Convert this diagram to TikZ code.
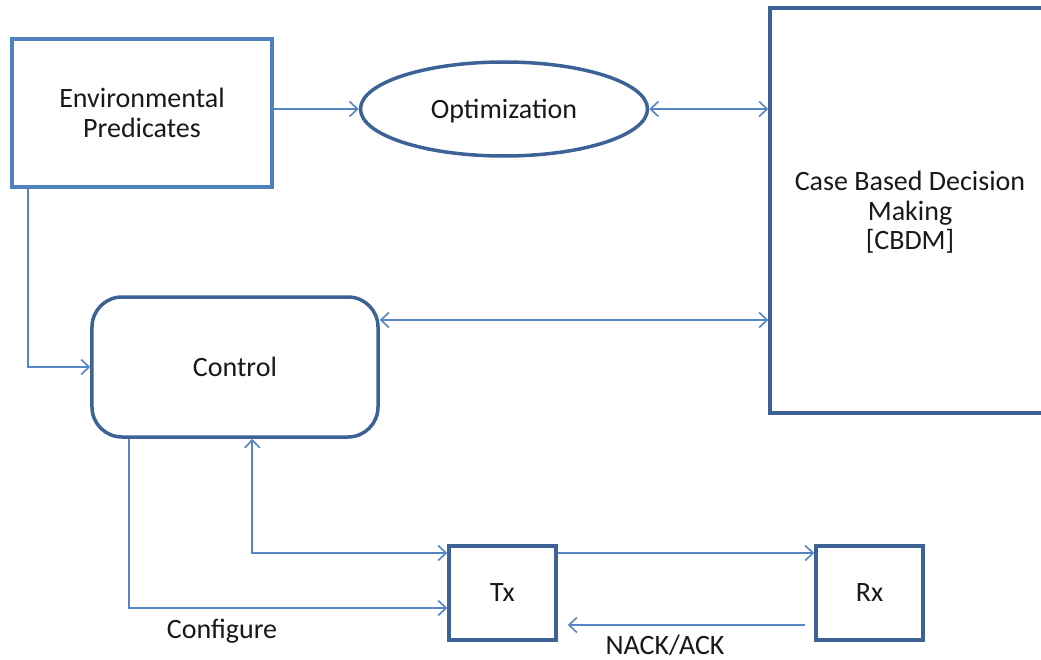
\documentclass[tikz,border=0pt]{standalone}
\usepackage{fontspec}
\setmainfont{Carlito}
\usetikzlibrary{arrows.meta,shapes.geometric}
\definecolor{boxblue}{HTML}{3D6396}
\definecolor{epblue}{HTML}{4F81BD}
\definecolor{linkblue}{HTML}{5585C4}
\tikzset{
  every node/.style={font=\fontsize{28bp}{29.5bp}\selectfont, text=black!90},
  blk/.style={draw=boxblue, line width=3.5bp, rectangle, align=center, inner sep=0pt},
  conn/.style={draw=linkblue, line width=1.8bp, arrows={-}},
  tip/.tip={Straight Barb[length=8bp,width=15bp,line width=1.6bp]},
  inlabel/.style={align=center, inner sep=0pt},
}
\begin{document}
\begin{tikzpicture}[x=1bp,y=-1bp, >=tip]
\path[use as bounding box, clip] (0,0) rectangle (1041,660);
\fill[white] (0,0) rectangle (1041,660);
% nodes
\node[blk, draw=epblue, minimum width=260bp, minimum height=148bp] (ep) at (142,113) {Environmental\\Predicates};
\node[draw=boxblue, line width=3.5bp, ellipse, minimum width=287bp, minimum height=94bp, inner sep=0pt,
  label={[inlabel, yshift=-2bp]center:Optimization}] (opt) at (504,109) {};
\node[blk, minimum width=280bp, minimum height=405bp,
  label={[inlabel, yshift=-2bp]center:Case Based Decision\\Making\\{[CBDM]}}] (cbdm) at (910,210.5) {};
\node[blk, rounded corners=30bp, minimum width=286bp, minimum height=140bp] (ctrl) at (235,367) {Control};
\node[blk, minimum width=107bp, minimum height=94bp] (tx) at (502.5,593) {Tx};
\node[blk, minimum width=107bp, minimum height=94bp] (rx) at (869.5,593) {Rx};
% connectors
\draw[conn,->] (opt.west -| ep.east) -- (opt.west);
\draw[conn,<->] (opt.east) -- (opt.east -| cbdm.west);
\coordinate (cy) at (0,320);
\draw[conn,<->] (ctrl.east |- cy) -- (cbdm.west |- cy);
\draw[conn,->] ([xshift=18bp]ep.south west) |- (ctrl.west);
\draw[conn,->] ([xshift=39bp]ctrl.south west) |- ([yshift=-15bp]tx.west);
\draw[conn,<->] ([xshift=162bp]ctrl.south west) |- ([yshift=40bp]tx.west);
\draw[conn,->] ([yshift=40bp]tx.east) -- ([yshift=40bp]rx.west);
\draw[conn,->] ([xshift=-9bp,yshift=-32bp]rx.west) -- ([xshift=10bp,yshift=-32bp]tx.east);
% labels
\node (cfg) at (222,631) {Configure};
\node (ack) at (665,645) {NACK/ACK};
\end{tikzpicture}
\end{document}
